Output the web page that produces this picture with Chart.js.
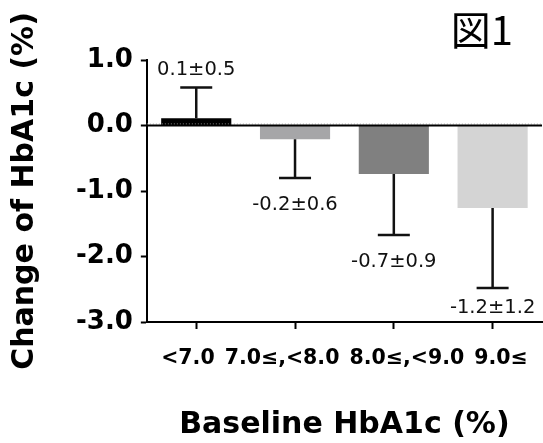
<!DOCTYPE html>
<html>
<head>
<meta charset="utf-8">
<script src="https://cdn.jsdelivr.net/npm/chart.js@4"></script>
<style>
  html, body { margin: 0; padding: 0; background: #fff; }
  #wrap { width: 543px; height: 443px; }
</style>
</head>
<body>
<div id="wrap"><canvas id="myChart"></canvas></div>
<script>
// data
const categories = ['<7.0', '7.0≤,<8.0', '8.0≤,<9.0', '9.0≤'];
const meanChange = [0.11, -0.21, -0.74, -1.26];
const sdChange = [0.47, 0.59, 0.93, 1.22];
const valueLabels = ['0.1±0.5', '-0.2±0.6', '-0.7±0.9', '-1.2±1.2'];
const barColors = ['#000000', '#a6a6a8', '#808080', '#d4d4d4'];

const boldFont = 'DejaVu Sans';

// error bars, value labels, zero line, category row, figure tag
const errorBarPlugin = {
  id: 'errorBars',
  afterDatasetsDraw(chart) {
    const ctx = chart.ctx;
    const y = chart.scales.y;
    const area = chart.chartArea;
    const meta = chart.getDatasetMeta(0);

    const y0 = y.getPixelForValue(0);
    ctx.save();
    // faint dotted line just above zero, like the original
    ctx.strokeStyle = '#aaa';
    ctx.lineWidth = 1;
    ctx.setLineDash([1, 2]);
    ctx.beginPath();
    ctx.moveTo(area.left, y0 - 1.5);
    ctx.lineTo(area.right, y0 - 1.5);
    ctx.stroke();
    ctx.setLineDash([]);

    ctx.strokeStyle = '#000';
    ctx.lineWidth = 2;
    ctx.beginPath();
    ctx.moveTo(area.left, y0);
    ctx.lineTo(area.right, y0);
    ctx.stroke();

    meta.data.forEach((bar, i) => {
      const m = meanChange[i];
      const sign = m >= 0 ? 1 : -1;
      const yStart = y.getPixelForValue(m);
      const yEnd = y.getPixelForValue(m + sign * sdChange[i]);
      ctx.strokeStyle = '#111';
      ctx.lineWidth = 2.5;
      ctx.beginPath();
      ctx.moveTo(bar.x, yStart);
      ctx.lineTo(bar.x, yEnd);
      ctx.moveTo(bar.x - 16, yEnd);
      ctx.lineTo(bar.x + 16, yEnd);
      ctx.stroke();

      const size = 19.5;
      ctx.fillStyle = '#111';
      ctx.font = size + 'px "DejaVu Sans"';
      ctx.textAlign = 'center';
      ctx.textBaseline = 'alphabetic';
      if (sign > 0) {
        ctx.fillText(valueLabels[i], bar.x, yEnd - 12.5);
      } else {
        const base = Math.min(yEnd + 17.5 + size * 0.729, area.bottom - 9.5);
        ctx.fillText(valueLabels[i], bar.x, base);
      }
    });

    // category labels as one centred row under the axis
    ctx.fillStyle = '#000';
    ctx.font = 'bold 20.5px "DejaVu Sans"';
    ctx.textAlign = 'left';
    ctx.textBaseline = 'middle';
    const gap = 10;
    const widths = categories.map(c => ctx.measureText(c).width);
    const total = widths.reduce((a, b) => a + b, 0) + gap * (categories.length - 1);
    let cx = (area.left + area.right) / 2 - total / 2;
    categories.forEach((c, i) => {
      ctx.fillText(c, cx, area.bottom + 37);
      cx += widths[i] + gap;
    });

    // figure tag
    ctx.font = '40px "Noto Sans CJK JP"';
    ctx.textAlign = 'right';
    ctx.textBaseline = 'middle';
    ctx.fillText('図1', area.right - 29, 30);
    ctx.restore();
  }
};

const ctx = document.getElementById('myChart').getContext('2d');
new Chart(ctx, {
  type: 'bar',
  data: {
    labels: categories,
    datasets: [{
      data: meanChange,
      backgroundColor: barColors,
      borderWidth: 0,
      barPercentage: 0.71,
      categoryPercentage: 1.0
    }]
  },
  options: {
    responsive: true,
    maintainAspectRatio: false,
    animation: false,
    layout: { padding: { top: 60, right: 1, bottom: 0, left: 0 } },
    plugins: {
      legend: { display: false },
      tooltip: { enabled: false }
    },
    scales: {
      x: {
        border: { display: true, color: '#000', width: 2 },
        grid: {
          offset: false,
          drawOnChartArea: false,
          drawTicks: true,
          tickLength: 7,
          tickColor: '#000',
          tickWidth: 2
        },
        ticks: { display: false },
        title: {
          display: true,
          text: 'Baseline HbA1c (%)',
          color: '#000',
          padding: { top: 78, bottom: 0 },
          font: { family: boldFont, size: 30, weight: 'bold' }
        }
      },
      y: {
        min: -3,
        max: 1,
        border: { display: true, color: '#000', width: 2 },
        grid: {
          drawOnChartArea: false,
          drawTicks: true,
          tickLength: 6,
          tickColor: '#000',
          tickWidth: 2
        },
        ticks: {
          stepSize: 1,
          color: '#000',
          padding: 8,
          font: { family: boldFont, size: 26, weight: 'bold' },
          callback: v => v.toFixed(1)
        },
        title: {
          display: true,
          text: 'Change of HbA1c (%)',
          color: '#000',
          padding: { top: 7.5, bottom: 24.5 },
          font: { family: boldFont, size: 30, weight: 'bold' }
        }
      }
    }
  },
  plugins: [errorBarPlugin]
});
</script>
</body>
</html>
